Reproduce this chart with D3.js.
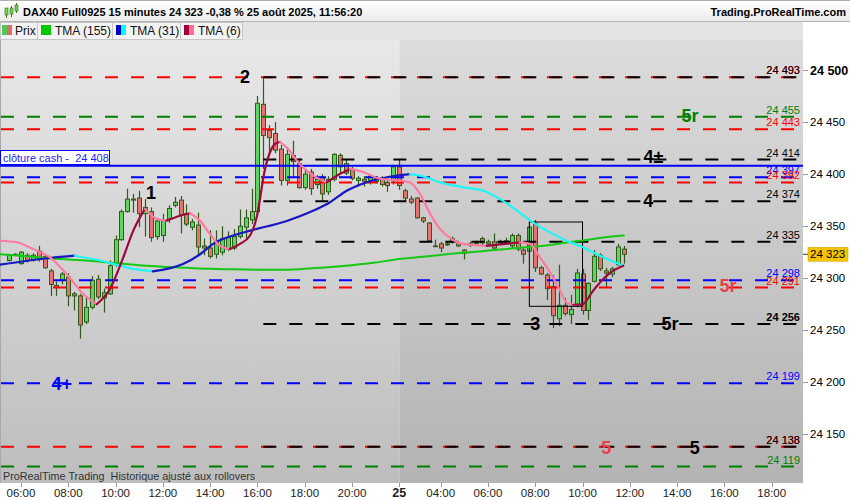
<!DOCTYPE html>
<html><head><meta charset="utf-8">
<script src="https://cdn.jsdelivr.net/npm/d3@7/dist/d3.min.js"></script>
<style>
html,body{margin:0;padding:0;background:#fff;}
svg{display:block;font-family:"Liberation Sans",Arial,sans-serif;}
text{white-space:pre;}
</style></head><body>
<svg id="chart" width="850" height="500"></svg>
<script>
// ---------------- DATA ----------------
const titleText = "DAX40 Full0925 15 minutes 24 323 -0,38 % 25 août 2025, 11:56:20";
const siteText = "Trading.ProRealTime.com";
const legendNames = ["Prix", "TMA (155)", "TMA (31)", "TMA (6)"];
const footerText = "ProRealTime Trading  Historique ajusté aux rollovers";

const firstBar = -2;   // bar index of first candle (0 = 06:00 on day 1)
const dayStartBar = 64; // first bar of 25 August
const opens  = [24317,24323,24314,24322,24318,24326,24321,24307,24293,24298,24301,24285,24283,24258,24272,24299,24281,24285,24313,24337,24364,24375,24377,24362,24364,24340,24341,24357,24370,24375,24362,24349,24351,24331,24329,24323,24325,24328,24329,24340,24349,24356,24364,24467,24442,24439,24424,24394,24418,24410,24387,24402,24390,24397,24383,24395,24418,24410,24404,24394,24395,24394,24396,24396,24392,24394,24407,24384,24376,24377,24358,24353,24331,24333,24332,24338,24333,24327,24332,24334,24338,24335,24335,24334,24334,24331,24341,24327,24326,24352,24310,24303,24292,24261,24274,24265,24275,24304,24269,24297,24322,24307,24304,24313,24328];
const highs  = [24323,24324,24326,24324,24324,24331,24323,24309,24297,24306,24305,24287,24285,24282,24302,24303,24290,24317,24341,24366,24386,24381,24384,24376,24368,24358,24362,24370,24378,24379,24371,24357,24363,24338,24346,24346,24350,24345,24347,24366,24366,24386,24475,24493,24447,24450,24428,24426,24432,24415,24404,24405,24399,24400,24398,24420,24420,24414,24407,24398,24398,24400,24398,24398,24395,24409,24414,24386,24379,24378,24359,24354,24337,24335,24335,24340,24335,24328,24335,24336,24340,24337,24343,24337,24339,24343,24343,24329,24351,24356,24312,24305,24303,24313,24281,24284,24309,24309,24296,24327,24324,24310,24311,24333,24331];
const lows   = [24316,24322,24313,24315,24316,24316,24309,24283,24283,24294,24273,24269,24242,24256,24270,24280,24267,24284,24311,24336,24363,24363,24349,24340,24335,24337,24335,24353,24368,24343,24350,24346,24323,24322,24319,24319,24322,24326,24327,24338,24338,24352,24360,24405,24420,24420,24389,24389,24396,24386,24385,24380,24386,24374,24380,24393,24401,24399,24394,24388,24388,24390,24391,24388,24383,24390,24385,24374,24371,24357,24353,24335,24330,24325,24331,24333,24330,24318,24330,24331,24332,24331,24328,24332,24332,24329,24326,24314,24326,24306,24303,24279,24252,24254,24264,24256,24272,24265,24260,24296,24307,24291,24301,24312,24314];
const closes = [24322,24323,24325,24317,24322,24318,24310,24294,24291,24304,24283,24283,24255,24272,24298,24282,24286,24312,24337,24364,24376,24376,24362,24368,24339,24355,24356,24367,24373,24361,24352,24354,24330,24329,24321,24335,24338,24339,24340,24350,24358,24364,24468,24437,24435,24423,24394,24419,24412,24387,24400,24386,24395,24381,24395,24419,24407,24401,24396,24396,24393,24398,24393,24390,24389,24407,24389,24377,24373,24358,24355,24336,24331,24329,24333,24335,24331,24324,24333,24333,24334,24333,24329,24335,24336,24341,24328,24323,24349,24310,24304,24290,24264,24274,24266,24270,24305,24269,24295,24321,24309,24305,24309,24330,24323];

// moving averages (bar index, value)
const tma155Idx = [-3.55,0,4,8,12,16,20,24,28,32,36,40,44,48,52,56,60,64,68,72,76,80,84,88,92,96,100,102];
const tma155Val = [24323,24321.5,24319.5,24318,24316.5,24314.5,24312.5,24311,24310,24309,24308.5,24308,24308,24309,24310.5,24312.5,24315,24318.5,24320.5,24323,24325,24327,24329,24331,24334,24337,24340,24341];
const tma31Idx = [-3.55,4.9,9.1,13.4,18.95,22.3,27.4,30.3,32.5,35.9,38.8,44.96,49.5,52.3,55.1,57.9,60.7,63.6,65.8,67.5,70.9,75.4,78.2,81.05,83.9,86.6,89.5,92.3,95.1,97.96,101.9];
const tma31Val = [24313,24319.4,24321.6,24317,24309,24306.6,24313.6,24323,24333,24341,24345.7,24355,24365,24373,24384,24391,24395.5,24398.6,24400,24398.6,24392,24386.8,24384,24376,24365,24353.7,24344,24336,24329.6,24321.6,24312];
const tma6Idx = [-3.55,-0.73,2.03,4.9,7.73,10.54,12.81,15.06,17.31,19.0,20.98,22.96,24.65,26.9,28.6,30.29,31.98,33.67,35.36,37.06,38.75,39.88,41.29,42.13,42.98,43.82,45.52,46.65,49.46,51.73,54.0,55.67,57.92,60.74,63.57,65.82,67.5,69.2,70.9,72.6,74.28,76.5,78.8,82.7,84.4,86.1,87.8,89.5,91.2,92.3,93.45,94.87,96.8,98.5,100.2,101.9];
const tma6Val = [24336,24334.5,24328,24320,24304,24284.8,24275,24289.6,24320,24345.7,24366.6,24357,24355.3,24360,24362.4,24355.3,24342.5,24331,24328,24333,24341,24358.6,24405,24421,24429,24431,24422,24413,24398.6,24392,24400.3,24405,24402,24395.5,24394,24392,24381,24362,24347.3,24338.7,24333.5,24332,24331,24333.5,24334.4,24333,24320,24305.6,24288,24276.7,24274.5,24274.6,24288,24299.2,24307.2,24312];

// horizontal levels
const levelValues = [24493,24493,24455,24443,24414,24397,24392,24374,24335,24298,24291,24256,24199,24138,24138,24119];
const levelKinds  = ["red","black","green","red","black","blue","red","black","black","blue","red","black","blue","red","black","green"];
const levelStartBar = [null,41,null,null,41,null,null,41,41,null,null,41,null,null,41,null];
const cashClose = 24408;
const cashLabel = "clôture cash -  24 408";
const lastPrice = 24323;

// annotations
const markText = ["2","1","3","5r","4","4±","5r","5r","4+","5","5"];
const markBar  = [37.9,22,87,109.8,106.1,107,113.2,119.6,6.9,99,114];
const markVal  = [24494,24382,24256,24256,24374.6,24417,24456.4,24292.7,24198.4,24137.8,24137];
const markKind = ["black","black","black","black","black","black","green","lightred","blue","lightred","black"];

// box
const boxBars = [86,95];
const boxVals = [24354,24273];

// axes
const yTicks = [24150,24200,24250,24300,24350,24400,24450,24500];
const xTickBars = [0,8,16,24,32,40,48,56,64,71,79,87,95,103,111,119,127];
const xTickLabels = ["06:00","08:00","10:00","12:00","14:00","16:00","18:00","20:00","25","04:00","06:00","08:00","10:00","12:00","14:00","16:00","18:00"];

// ---------------- DRAWING ----------------
const colors = {red:"#ff0000", black:"#000000", green:"#008000", blue:"#0000ff", lightred:"#e8414a"};
const svg = d3.select("#chart");
const PL=0, PR=803, PT=40, PB=483;
const x = d3.scaleLinear().domain([-3.55,132.3]).range([PL,PR]);
const y = d3.scaleLinear().domain([24150,24500]).range([434.35,70]);
const fmt = v => { const s = String(Math.round(v)); return s.slice(0,s.length-3)+" "+s.slice(-3); };

const defs = svg.append("defs");
function vgrad(id, c1, c2){
  const g = defs.append("linearGradient").attr("id",id).attr("x1",0).attr("x2",0).attr("y1",0).attr("y2",1);
  g.append("stop").attr("offset",0).attr("stop-color",c1);
  g.append("stop").attr("offset",1).attr("stop-color",c2);
}
vgrad("bgL","#e8e8e8","#bdbdbd");
vgrad("bgR","#dcdcdc","#b3b3b3");
vgrad("hdr","#ffffff","#ececec");
defs.append("clipPath").attr("id","clip").append("rect")
  .attr("x",PL).attr("y",PT).attr("width",PR-PL).attr("height",PB-PT);

// header bar
svg.append("rect").attr("x",0).attr("y",0).attr("width",850).attr("height",21).attr("fill","url(#hdr)");
svg.append("line").attr("x1",0).attr("x2",850).attr("y1",0.5).attr("y2",0.5).attr("stroke","#b0b0b0");
svg.append("line").attr("x1",0).attr("x2",850).attr("y1",21.5).attr("y2",21.5).attr("stroke","#b4b4b4");
// small candle icon
[[5,11,15,8,13],[10,6,14,8,12],[15,3,10,5,9]].forEach(c=>{
  svg.append("line").attr("x1",c[0]+1.5).attr("x2",c[0]+1.5).attr("y1",c[1]).attr("y2",c[2]+3).attr("stroke","#3c6e1e");
  svg.append("rect").attr("x",c[0]).attr("y",c[3]).attr("width",3).attr("height",c[4]-c[3]+2).attr("fill","#6ad24a").attr("stroke","#3c6e1e").attr("stroke-width",0.6);
});
svg.append("text").attr("x",23).attr("y",15.5).attr("font-size",11).attr("font-weight","bold").attr("fill","#000").text(titleText);
svg.append("text").attr("x",846).attr("y",15.5).attr("text-anchor","end").attr("font-size",11).attr("font-weight","bold").attr("fill","#000").text(siteText);

// legend row
svg.append("rect").attr("x",0).attr("y",22).attr("width",803).attr("height",18).attr("fill","#e4e4e4");
const tabX = [0,37,112,180];
const tabW = [37,75,68,62];
const tabTextX = [15,55,130,198];
const tabIcons = [["#4fc94f","#e06a6a"],["#00c800"],["#0000c8","#00ffff"],["#a0003a","#ff6f9a"]];
const tabIconX = [2,41,116,184];
legendNames.forEach((n,i)=>{
  svg.append("rect").attr("x",tabX[i]+0.5).attr("y",22.5).attr("width",tabW[i]).attr("height",17).attr("fill","#f3f3f3").attr("stroke","#c6c6c6");
  const ic = tabIcons[i];
  if(ic.length===1){
    svg.append("rect").attr("x",tabIconX[i]).attr("y",25).attr("width",10).attr("height",10).attr("fill",ic[0]);
  } else {
    svg.append("rect").attr("x",tabIconX[i]).attr("y",25).attr("width",5).attr("height",10).attr("fill",ic[0]);
    svg.append("rect").attr("x",tabIconX[i]+5).attr("y",25).attr("width",5).attr("height",10).attr("fill",ic[1]);
  }
  svg.append("text").attr("x",tabTextX[i]).attr("y",35).attr("font-size",12).attr("fill","#111").text(n);
});
svg.append("rect").attr("x",803).attr("y",22).attr("width",47).attr("height",478).attr("fill","#ffffff");

// plot backgrounds
const dayX = x(dayStartBar);
svg.append("rect").attr("x",PL).attr("y",PT).attr("width",dayX-PL).attr("height",PB-PT).attr("fill","url(#bgL)");
svg.append("rect").attr("x",dayX).attr("y",PT).attr("width",PR-dayX).attr("height",PB-PT).attr("fill","url(#bgR)");
svg.append("line").attr("x1",0.5).attr("x2",0.5).attr("y1",PT).attr("y2",PB).attr("stroke","#a8a8a8");

const plot = svg.append("g").attr("clip-path","url(#clip)");

// candles
const bars = opens.map((o,i)=>({i:firstBar+i,o,h:highs[i],l:lows[i],c:closes[i]}));
const cg = plot.append("g");
bars.forEach(b=>{
  const cx = Math.round(x(b.i));
  cg.append("line").attr("x1",cx+0.5).attr("x2",cx+0.5).attr("y1",y(b.h)).attr("y2",y(b.l))
    .attr("stroke","#2f5a1c").attr("stroke-width",1.2);
  const top = Math.min(y(b.o),y(b.c)), bot = Math.max(y(b.o),y(b.c));
  cg.append("rect").attr("x",cx-1.5).attr("y",top).attr("width",4).attr("height",Math.max(bot-top,0.8))
    .attr("fill", b.c>=b.o ? "#5cd65c" : "#e4756e").attr("stroke","#2f5a1c").attr("stroke-width",1);
});

// levels
levelValues.forEach((v,k)=>{
  const sx = levelStartBar[k]===null ? 1 : x(levelStartBar[k]);
  plot.append("line").attr("x1",sx).attr("x2",PR).attr("y1",y(v)).attr("y2",y(v))
    .attr("stroke",colors[levelKinds[k]]).attr("stroke-width",2).attr("stroke-dasharray","13,13");
});
// cash close line
plot.append("line").attr("x1",PL).attr("x2",PR).attr("y1",y(cashClose)).attr("y2",y(cashClose))
  .attr("stroke","#0000ff").attr("stroke-width",2);

// box
plot.append("rect").attr("x",x(boxBars[0])).attr("y",y(boxVals[0]))
  .attr("width",x(boxBars[1])-x(boxBars[0])).attr("height",y(boxVals[1])-y(boxVals[0]))
  .attr("fill","none").attr("stroke","#000").attr("stroke-width",1);

// moving averages
function drawMA(idx, val, upC, downC, w){
  const pts = idx.map((d,i)=>[x(d), y(val[i]), val[i]]);
  const runs=[]; let cur=[pts[0]]; let dir=null;
  for(let i=1;i<pts.length;i++){
    const d = pts[i][2]>=pts[i-1][2] ? "up":"down";
    if(dir===null) dir=d;
    if(d!==dir){ runs.push({dir,pts:cur}); cur=[pts[i-1]]; dir=d; }
    cur.push(pts[i]);
  }
  runs.push({dir,pts:cur});
  const line = d3.line().x(p=>p[0]).y(p=>p[1]).curve(d3.curveMonotoneX);
  runs.forEach(r=>{
    plot.append("path").attr("d",line(r.pts)).attr("fill","none")
      .attr("stroke", r.dir==="up"?upC:downC).attr("stroke-width",w).attr("stroke-linecap","round");
  });
}
drawMA(tma155Idx,tma155Val,"#14c814","#14c814",2);
drawMA(tma31Idx,tma31Val,"#1818c0","#22f4f4",2.2);
drawMA(tma6Idx,tma6Val,"#9c0a3c","#ff7aa2",2.2);

// level labels
const boldLabels = new Set([24256]);
levelValues.forEach((v,k)=>{
  plot.append("text").attr("x",800).attr("y",y(v)-3).attr("text-anchor","end")
    .attr("font-size",11).attr("font-weight", boldLabels.has(v)?"bold":"normal")
    .attr("fill",colors[levelKinds[k]]).text(fmt(v));
});

// annotations
markText.forEach((t,k)=>{
  plot.append("text").attr("x",x(markBar[k])).attr("y",y(markVal[k])).attr("dy","0.36em")
    .attr("text-anchor","middle").attr("font-size",18).attr("font-weight","bold")
    .attr("fill",colors[markKind[k]]).text(t);
});

// cash label box
svg.append("rect").attr("x",0.5).attr("y",150.5).attr("width",109).attr("height",14)
  .attr("fill","#ffffff").attr("stroke","#0000ff");
svg.append("text").attr("x",3).attr("y",161.5).attr("font-size",11).attr("fill","#1a1aff").text(cashLabel);

// footer
svg.append("text").attr("x",3).attr("y",480).attr("font-size",10.8).attr("fill","#333").text(footerText);

// right axis
const ya = svg.append("g");
yTicks.forEach(t=>{
  ya.append("line").attr("x1",803).attr("x2",808).attr("y1",Math.round(y(t))+0.5).attr("y2",Math.round(y(t))+0.5).attr("stroke","#999");
  ya.append("text").attr("x",810).attr("y",y(t)).attr("dy","0.36em")
    .attr("font-size", t===24500?12.5:11.5).attr("font-weight", t===24500?"bold":"normal").attr("fill","#000").text(fmt(t));
});
// last price label
ya.append("line").attr("x1",803).attr("x2",808).attr("y1",y(lastPrice)).attr("y2",y(lastPrice)).attr("stroke","#333");
ya.append("rect").attr("x",808).attr("y",y(lastPrice)-7).attr("width",40).attr("height",14).attr("fill","#f5c400").attr("stroke","#c9a000").attr("stroke-width",0.5);
ya.append("text").attr("x",810).attr("y",y(lastPrice)).attr("dy","0.36em").attr("font-size",11.5).attr("fill","#000").text(fmt(lastPrice));

// x axis
const xa = svg.append("g");
xTickBars.forEach((b,k)=>{
  const isDay = xTickLabels[k]==="25";
  xa.append("line").attr("x1",Math.round(x(b))+0.5).attr("x2",Math.round(x(b))+0.5).attr("y1",PB).attr("y2",PB+4).attr("stroke","#999");
  xa.append("text").attr("x",x(b)).attr("y",496.5).attr("text-anchor","middle")
    .attr("font-size", isDay?12.5:11.5).attr("font-weight", isDay?"bold":"normal").attr("fill","#222").text(xTickLabels[k]);
});
</script></body></html>
